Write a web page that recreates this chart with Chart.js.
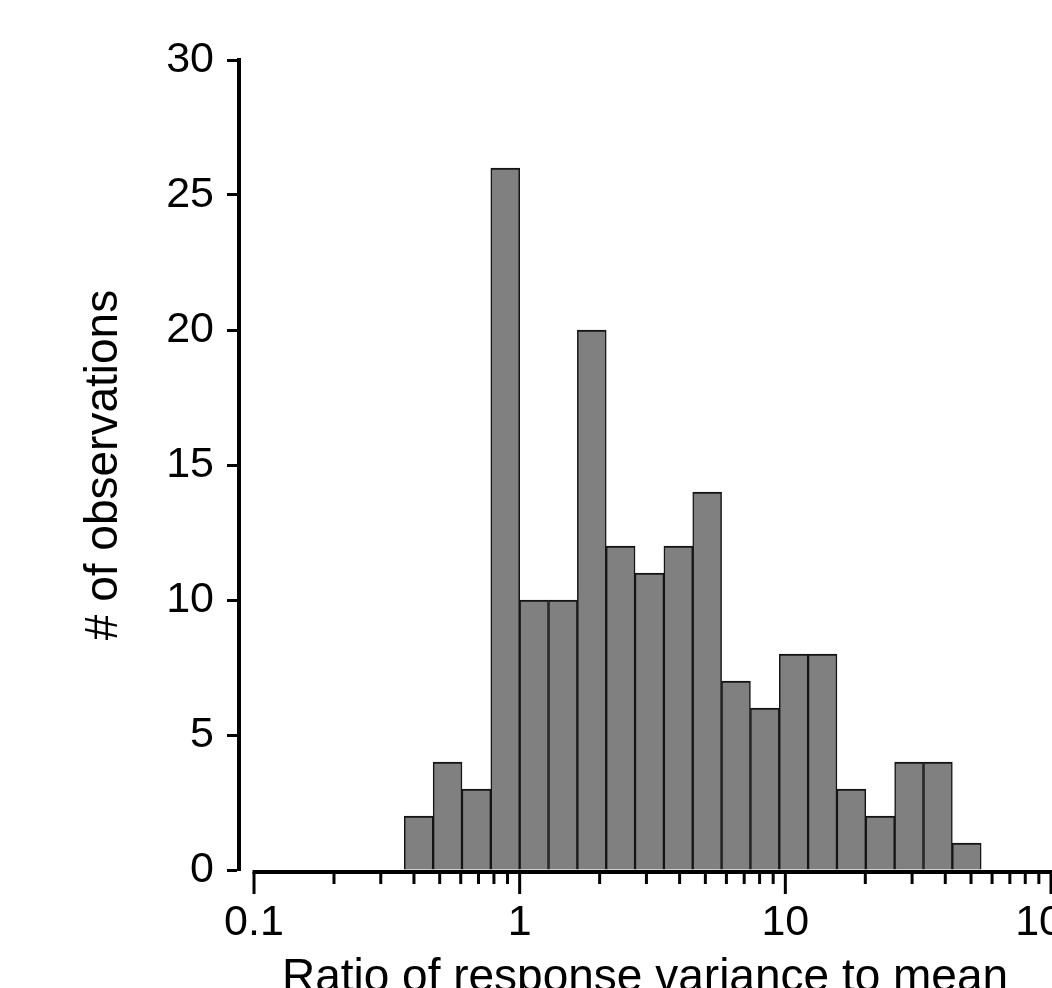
<!DOCTYPE html>
<html lang="en">
<head>
<meta charset="UTF-8" />
<title>Ratio of response variance to mean</title>
<script src="https://cdn.jsdelivr.net/npm/chart.js"></script>
<style>
  html,body{margin:0;padding:0;background:#fff;overflow:hidden}
  #wrap{width:1120px;height:1006px}
</style>
</head>
<body>
<div id="wrap"><canvas id="hist" width="1120" height="1006"></canvas></div>
<script>
// histogram bins: equal steps of 0.25 in ln(ratio), starting at ln = -1
const binStartsLn = [-1, -0.75, -0.5, -0.25, 0, 0.25, 0.5, 0.75, 1, 1.25, 1.5, 1.75, 2, 2.25, 2.5, 2.75, 3, 3.25, 3.5, 3.75];
const binWidthLn = 0.25;
const counts = [2, 4, 3, 26, 10, 10, 20, 12, 11, 12, 14, 7, 6, 8, 8, 3, 2, 4, 4, 1];
const xTickLabels = [0.1, 1, 10, 100];
const yTicks = [0, 5, 10, 15, 20, 25, 30];

const FONT = "'Liberation Sans', Arial, sans-serif";
const points = binStartsLn.map((lo, i) => ({ x: Math.exp(lo + binWidthLn / 2), y: counts[i] }));

// x axis is drawn by hand so it can start at 0.1 (offset from the y axis) and carry log minor ticks
const logAxis = {
  id: 'logAxis',
  afterDraw(chart) {
    const xs = chart.scales.x, ctx = chart.ctx, y0 = chart.chartArea.bottom + 2;
    ctx.save();
    ctx.strokeStyle = '#000';
    ctx.lineWidth = 4;
    ctx.beginPath();
    ctx.moveTo(xs.getPixelForValue(0.1) - 1.5, y0);
    ctx.lineTo(xs.getPixelForValue(100) + 1.5, y0);
    ctx.stroke();
    ctx.lineWidth = 3;
    for (let e = -1; e <= 2; e++) {
      for (let d = 1; d <= 9; d++) {
        const v = d * Math.pow(10, e);
        if (v > 100.0001) break;
        const px = xs.getPixelForValue(v);
        ctx.beginPath();
        ctx.moveTo(px, y0);
        ctx.lineTo(px, y0 + (d === 1 ? 22 : 12));
        ctx.stroke();
      }
    }
    ctx.restore();
  }
};

new Chart(document.getElementById('hist'), {
  type: 'bar',
  data: {
    datasets: [{
      data: points,
      backgroundColor: '#808080',
      borderColor: '#141414',
      borderWidth: { top: 2, left: 1.5, right: 1.5, bottom: 0 },
      borderSkipped: false,
      barPercentage: 1,
      categoryPercentage: 1
    }]
  },
  options: {
    responsive: false,
    animation: false,
    layout: { padding: { left: 0, top: 60, right: 69, bottom: 0 } },
    plugins: { legend: { display: false }, tooltip: { enabled: false } },
    scales: {
      x: {
        type: 'logarithmic',
        min: 0.0878,
        max: 100,
        offset: false,
        border: { display: false },
        grid: { display: false, drawTicks: false },
        afterBuildTicks: s => { s.ticks = xTickLabels.map(v => ({ value: v })); },
        ticks: {
          autoSkip: false, maxRotation: 0, padding: 27, color: '#000',
          font: { family: FONT, size: 43 },
          callback: v => String(v)
        },
        title: {
          display: true, text: 'Ratio of response variance to mean', color: '#000',
          font: { family: FONT, size: 46 }, padding: 0
        },
        afterFit: s => { s.height = 136; }
      },
      y: {
        min: 0,
        max: 30,
        afterBuildTicks: s => { s.ticks = yTicks.map(v => ({ value: v })); },
        border: { display: true, color: '#000', width: 4 },
        grid: { drawOnChartArea: false, drawTicks: true, tickLength: 12, tickWidth: 3, tickColor: '#000' },
        ticks: { color: '#000', padding: 13, font: { family: FONT, size: 43 } },
        title: {
          display: true, text: '# of observations', color: '#000',
          font: { family: FONT, size: 46 }, padding: { top: 77, bottom: 0 }
        },
        afterFit: s => { s.width = 239; }
      }
    }
  },
  plugins: [logAxis]
});
</script>
</body>
</html>
